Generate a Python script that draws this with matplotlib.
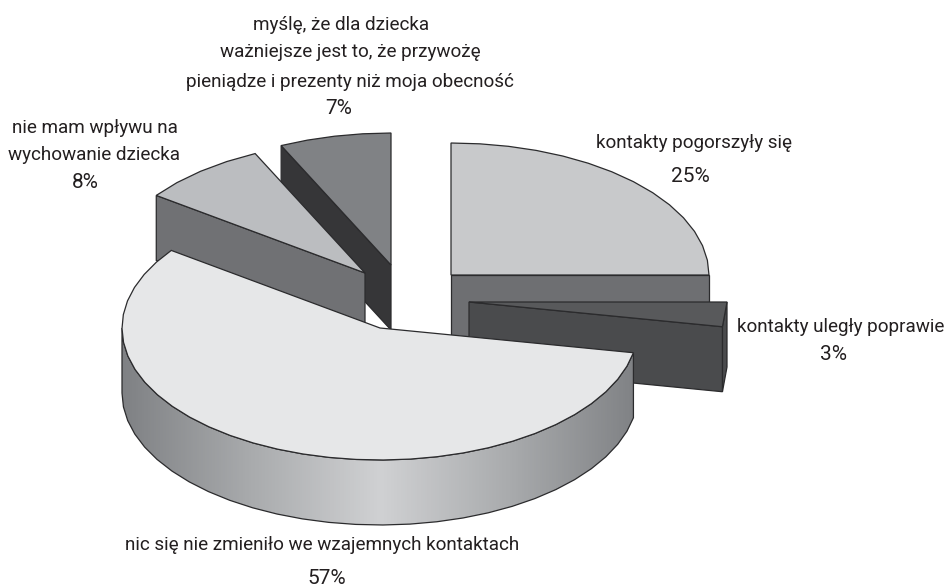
import numpy as np
import matplotlib.pyplot as plt
from matplotlib.colors import LinearSegmentedColormap
from matplotlib.patches import Polygon

# data
categories = ['kontakty pogorszyły się',
              'kontakty uległy poprawie',
              'nic się nie zmieniło we wzajemnych kontaktach',
              'nie mam wpływu na\nwychowanie dziecka',
              'myślę, że dla dziecka\nważniejsze jest to, że przywożę\npieniądze i prezenty niż moja obecność']
shares = [25, 3, 57, 8, 7]

# layout, in pixels of the 946x588 picture
centers = [(451, 275), (469, 302), (380, 328), (365, 273), (391, 265)]
name_pos = [[(694, 143)], [(841, 327)], [(322, 545)],
            [(95, 128), (94, 155)],
            [(341, 25), (350, 52), (350, 82)]]
share_pos = [(690, 177), (833, 355), (327, 579), (85, 183), (339, 109)]
RX, RY, DEPTH = 258, 132, 65
draw_order = [0, 1, 4, 3, 2]

top_colors = ['#c8c9cb', '#58595b', '#e6e7e8', '#bbbdc0', '#808285']
side_colors = ['#6e6f72', '#4a4b4d', None, '#707174', '#363638']
EDGE = '#2b2b2d'

fig = plt.figure(figsize=(9.46, 5.88), dpi=100)
ax = fig.add_axes([0, 0, 1, 1])

edges = np.cumsum([0] + shares) / sum(shares) * 2 * np.pi


def arc(center, a, b, step=np.radians(6)):
    n = max(int(abs(b - a) / step), 1) + 1
    t = np.linspace(a, b, n)
    return np.column_stack([center[0] + RX * np.sin(t), center[1] - RY * np.cos(t)])


def add_poly(pts, color, z):
    return ax.add_patch(Polygon(pts, closed=True, facecolor=color, edgecolor=EDGE,
                                linewidth=0.9, joinstyle='miter', zorder=z))


down = np.array([0, DEPTH])
gray_map = LinearSegmentedColormap.from_list('side', ['#7f8184', '#a9abad', '#d0d1d3', '#a9abad', '#7f8184'])

for z, i in enumerate(draw_order):
    c = np.array(centers[i], dtype=float)
    a, b = edges[i], edges[i + 1]
    outer = arc(c, a, b)
    base = z * 10

    # radial side that faces the viewer
    if i in (0, 1):
        end = outer[-1]
        add_poly([c, end, end + down, c + down], side_colors[i], base + 1)
    if i in (3, 4):
        start = outer[0]
        add_poly([start, c, c + down, start + down], side_colors[i], base)

    # rim, only the part that looks towards the viewer
    lo, hi = max(a, np.pi / 2), min(b, 3 * np.pi / 2)
    if lo < hi:
        rim = arc(c, lo, hi)
        pts = np.vstack([rim, (rim + down)[::-1]])
        if side_colors[i] is None:
            poly = add_poly(pts, 'none', base + 2)
            grad = np.linspace(0, 1, 512).reshape(1, -1)
            im = ax.imshow(grad, extent=(c[0] - RX, c[0] + RX, 0, 588), cmap=gray_map,
                           aspect='auto', zorder=base + 1)
            im.set_clip_path(poly)
        else:
            add_poly(pts, side_colors[i], base)

    # top face
    add_poly(np.vstack([c, outer]), top_colors[i], base + 3)

ax.set_xlim(0, 946)
ax.set_ylim(588, 0)
ax.axis('off')

for name, share, lines, pos in zip(categories, shares, name_pos, share_pos):
    for line, xy in zip(name.split('\n'), lines):
        ax.text(xy[0], xy[1], line, ha='center', va='center', family='Roboto',
                fontsize=13.6, color='#231f20', zorder=200)
    ax.text(pos[0], pos[1], f'{share}%', ha='center', va='center', family='Roboto',
            fontsize=15, color='#231f20', zorder=200)

fig.savefig('out.png', dpi=100)
